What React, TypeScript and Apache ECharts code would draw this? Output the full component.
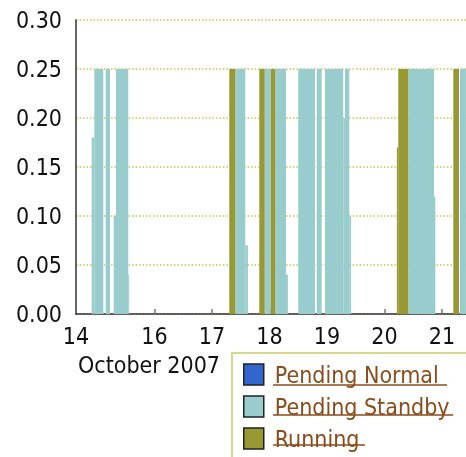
import React, { useEffect, useRef } from "react";
import * as echarts from "echarts";

// Day-of-month (October 2007) intervals: [start, end, value]
const pendingNormal: number[][] = [];
const pendingStandby: number[][] = [
  [14.908, 14.953, 0.18],
  [14.953, 15.11, 0.25],
  [15.151, 15.226, 0.25],
  [15.29, 15.33, 0.1],
  [15.33, 15.544, 0.25],
  [15.544, 15.56, 0.04],
  [17.405, 17.579, 0.25],
  [17.579, 17.625, 0.07],
  [17.917, 18.021, 0.25],
  [18.101, 18.287, 0.25],
  [18.287, 18.32, 0.04],
  [18.501, 18.791, 0.25],
  [18.821, 18.908, 0.25],
  [18.965, 19.283, 0.25],
  [19.283, 19.313, 0.2],
  [19.313, 19.388, 0.25],
  [19.388, 19.42, 0.1],
  [20.414, 20.861, 0.25],
  [20.861, 20.885, 0.12],
  [21.313, 21.417, 0.25],
];
const running: number[][] = [
  [17.301, 17.405, 0.25],
  [17.823, 17.917, 0.25],
  [18.021, 18.101, 0.25],
  [20.215, 20.24, 0.17],
  [20.24, 20.414, 0.25],
  [21.197, 21.296, 0.25],
];

const seriesNames = ["Pending Normal", "Pending Standby", "Running"];
const seriesColors = ["#3366cc", "#99cccc", "#999933"];

const xMin = 14.635;
const xMax = 21.418;
const xTickValues = [15, 16, 17, 18, 19, 20, 21];
const xLabelValues = [14.635, 16, 17, 18, 19, 20, 21];
const xLabelTexts = ["14", "16", "17", "18", "19", "20", "21"];
const xAxisTitle = "October 2007";

const FONT = "'DejaVu Sans Condensed', 'DejaVu Sans', sans-serif";
const FS = 23;

export default function App() {
  const ref = useRef<HTMLDivElement>(null);
  useEffect(() => {
    document.body.style.margin = "0";
    const chart = echarts.init(ref.current!, null, { renderer: "svg" });
    const mk = (name: string, data: number[][], color: string) => ({
      type: "custom",
      name,
      data,
      itemStyle: { color },
      encode: { x: [0, 1], y: 2 },
      renderItem: (params: any, api: any) => {
        const p0 = api.coord([api.value(0), api.value(2)]);
        const p1 = api.coord([api.value(1), 0]);
        return {
          type: "rect",
          shape: { x: p0[0], y: p0[1], width: p1[0] - p0[0], height: p1[1] - p0[1] },
          style: { fill: color },
        };
      },
    });
    const datas = [pendingNormal, pendingStandby, running];
    const underlineLens = [174, 180, 92];
    chart.setOption({
      animation: false,
      grid: { left: 76, top: 20, right: 0, bottom: 143 },
      xAxis: {
        type: "value",
        min: xMin,
        max: xMax,
        axisLine: { lineStyle: { color: "#333", width: 1.5 } },
        axisTick: {
          customValues: xTickValues,
          inside: true,
          length: 5,
          lineStyle: { color: "#777", width: 1.5 },
        },
        axisLabel: {
          customValues: xLabelValues,
          formatter: (v: number) => {
            const i = xLabelValues.findIndex((x) => Math.abs(x - v) < 1e-6);
            return i >= 0 ? xLabelTexts[i] : "";
          },
          color: "#111",
          fontFamily: FONT,
          fontSize: FS,
          margin: 10,
        },
        splitLine: { show: false },
      },
      yAxis: {
        type: "value",
        min: 0,
        max: 0.3,
        interval: 0.05,
        axisLine: { show: true, lineStyle: { color: "#333", width: 1.5 } },
        axisTick: { show: false },
        axisLabel: {
          formatter: (v: number) => v.toFixed(2),
          color: "#111",
          fontFamily: FONT,
          fontSize: FS,
          margin: 14,
        },
        splitLine: {
          show: true,
          lineStyle: { color: "#c8c850", width: 1.5, type: [1.5, 2] },
        },
      },
      legend: {
        orient: "vertical",
        left: 243,
        top: 363,
        padding: 0,
        itemWidth: 20,
        itemHeight: 21,
        itemGap: 9,
        icon: "rect",
        z: 10,
        selectedMode: false,
        itemStyle: { borderColor: "#222", borderWidth: 1.5 },
        textStyle: {
          color: "#8b4c1c",
          fontFamily: FONT,
          fontSize: FS,
          padding: [0, 0, 0, 6],
        },
        data: seriesNames,
      },
      graphic: [
        {
          type: "rect",
          z: 0,
          shape: { x: 232, y: 353, width: 300, height: 150 },
          style: { fill: "#fff", stroke: "#cccc66", lineWidth: 1.5 },
        },
        {
          type: "text",
          left: 78,
          top: 353,
          style: { text: xAxisTitle, fill: "#111", font: `${FS}px ${FONT}` },
        },
        ...underlineLens.map((len, i) => ({
          type: "line",
          z: 20,
          shape: { x1: 273, y1: 385 + i * 30, x2: 273 + len, y2: 385 + i * 30 },
          style: { stroke: "#8b4c1c", lineWidth: 1.5 },
        })),
      ],
      series: seriesNames.map((n, i) => mk(n, datas[i], seriesColors[i])),
    });
    return () => chart.dispose();
  }, []);
  return <div ref={ref} style={{ position: "fixed", left: 0, top: 0, width: 466, height: 457 }} />;
}
